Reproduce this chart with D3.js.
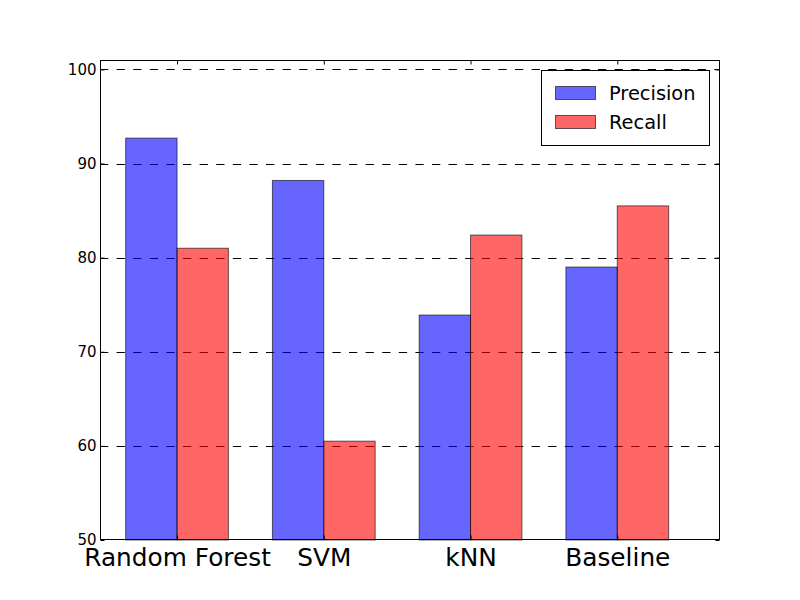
<!DOCTYPE html>
<html>
<head>
<meta charset="utf-8">
<script src="https://cdn.jsdelivr.net/npm/d3@7"></script>
<style>
  body { margin: 0; background: #fff; }
  svg { display: block; }
  text { font-family: "DejaVu Sans", sans-serif; }
</style>
</head>
<body>
<script>
const categories = ["Random Forest", "SVM", "kNN", "Baseline"];
const precision = [92.7, 88.2, 73.9, 79.0];
const recall = [81.0, 60.5, 82.4, 85.5];
const seriesNames = ["Precision", "Recall"];
const seriesColors = ["#0000ff", "#ff0000"];
const yTicks = [50, 60, 70, 80, 90, 100];
const barWidth = 0.35;

const W = 800, H = 600;
const L = 100, R = 720, T = 60, B = 540;

const svg = d3.select("body").append("svg").attr("width", W).attr("height", H);

const x = d3.scaleLinear().domain([-0.175, 4.05]).range([L, R]);
const y = d3.scaleLinear().domain([50, 101]).range([B, T]);

// grid (drawn beneath semi-transparent bars)
svg.append("g").selectAll("line").data(yTicks.filter(d => d > 50)).join("line")
  .attr("x1", L).attr("x2", R)
  .attr("y1", d => Math.round(y(d)) + 0.5).attr("y2", d => Math.round(y(d)) + 0.5)
  .attr("stroke", "#000").attr("stroke-width", 1)
  .attr("stroke-dasharray", "8.3,8.3");

const series = [precision, recall];
series.forEach((vals, si) => {
  svg.append("g").selectAll("rect").data(vals).join("rect")
    .attr("x", (d, i) => x(i + si * barWidth))
    .attr("width", (d, i) => x(i + (si + 1) * barWidth) - x(i + si * barWidth))
    .attr("y", d => y(d))
    .attr("height", d => y(50) - y(d))
    .attr("fill", seriesColors[si]).attr("fill-opacity", 0.6)
    .attr("stroke", "#000").attr("stroke-opacity", 0.6).attr("stroke-width", 1);
});

// frame
svg.append("rect").attr("x", L + 0.5).attr("y", T + 0.5)
  .attr("width", R - L - 1).attr("height", B - T - 1)
  .attr("fill", "none").attr("stroke", "#000").attr("stroke-width", 1);

// y axis ticks (inward, both sides) and labels
const yAxisL = d3.axisLeft(y).tickValues(yTicks).tickSize(-4).tickPadding(4);
const gL = svg.append("g").attr("transform", `translate(${L + 0.5},0)`).call(yAxisL);
gL.select(".domain").remove();
gL.selectAll("text").attr("font-size", "15px").attr("fill", "#000")
  .attr("font-family", "DejaVu Sans");
gL.selectAll("line").attr("stroke", "#000");

const yAxisR = d3.axisRight(y).tickValues(yTicks).tickSize(-4).tickFormat("");
const gR = svg.append("g").attr("transform", `translate(${R - 0.5},0)`).call(yAxisR);
gR.select(".domain").remove();

// x ticks at top (inward) and bottom labels
const xTickPos = categories.map((c, i) => i + barWidth);
const xAxisT = d3.axisTop(x).tickValues(xTickPos).tickSize(-4).tickFormat("");
const gT = svg.append("g").attr("transform", `translate(0,${T + 0.5})`).call(xAxisT);
gT.select(".domain").remove();
const xAxisB = d3.axisBottom(x).tickValues(xTickPos).tickSize(-4)
  .tickFormat((d, i) => categories[i]).tickPadding(9);
const gB = svg.append("g").attr("transform", `translate(0,${B - 0.5})`).call(xAxisB);
gB.select(".domain").remove();
gB.selectAll("text").attr("font-size", "24.8px").attr("fill", "#000")
  .attr("font-family", "DejaVu Sans");

// legend
const lg = svg.append("g");
lg.append("rect").attr("x", 541.5).attr("y", 70.5).attr("width", 168).attr("height", 75)
  .attr("fill", "#fff").attr("stroke", "#000").attr("stroke-width", 1);
seriesNames.forEach((name, i) => {
  const yy = 86 + i * 29;
  lg.append("rect").attr("x", 555.5).attr("y", yy + 0.5).attr("width", 40).attr("height", 13)
    .attr("fill", seriesColors[i]).attr("fill-opacity", 0.6)
    .attr("stroke", "#000").attr("stroke-opacity", 0.6);
  lg.append("text").attr("x", 609).attr("y", yy + 14).attr("font-size", "19.4px")
    .attr("fill", "#000").text(name);
});
</script>
</body>
</html>
